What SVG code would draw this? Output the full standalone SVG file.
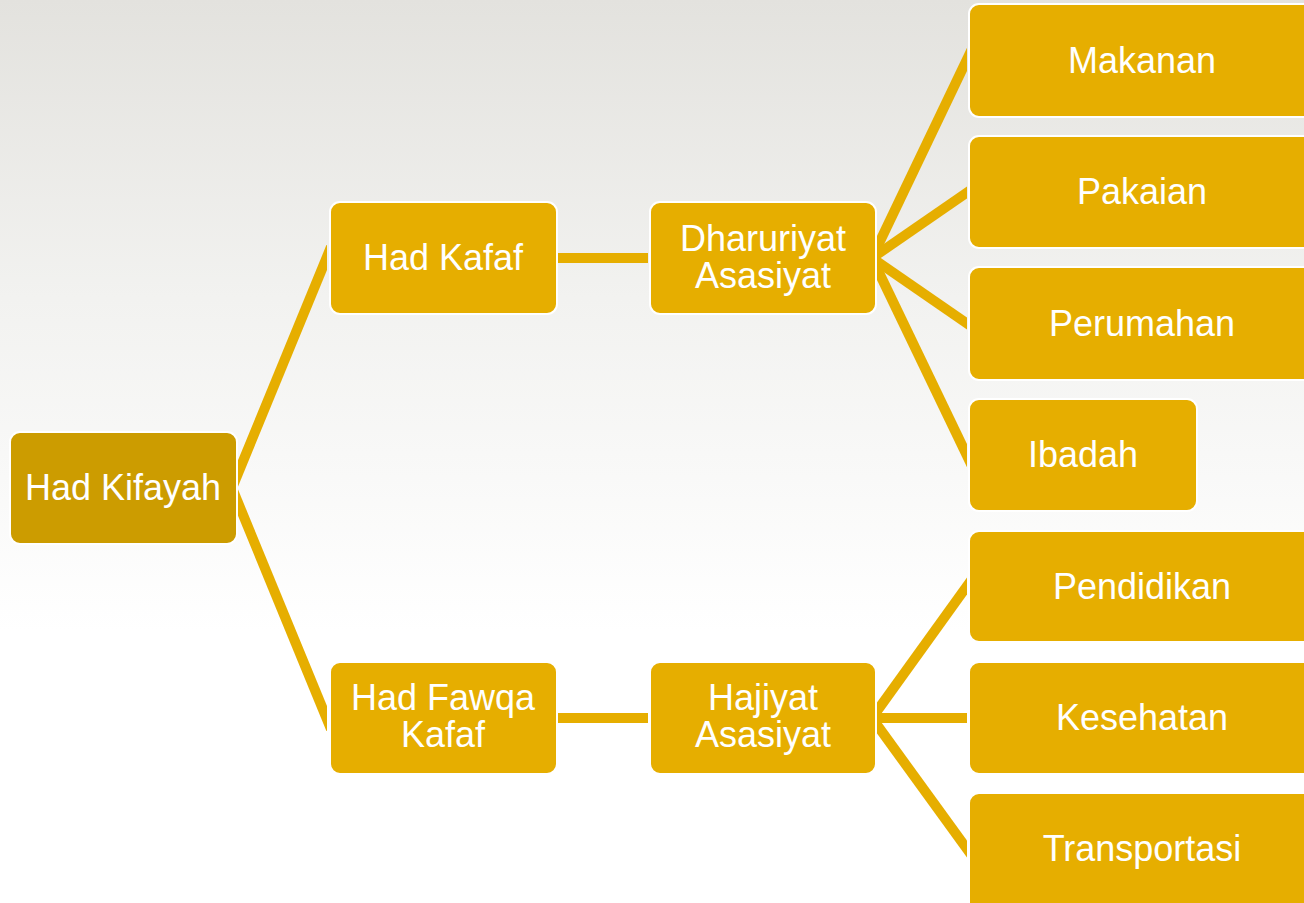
<svg xmlns="http://www.w3.org/2000/svg" width="1304" height="903" viewBox="0 0 1304 903">
<defs>
<linearGradient id="bg" x1="0" y1="0" x2="0" y2="1">
<stop offset="0" stop-color="#e3e2de"/>
<stop offset="0.33" stop-color="#f2f2f0"/>
<stop offset="0.7" stop-color="#ffffff"/>
<stop offset="1" stop-color="#ffffff"/>
</linearGradient>
<clipPath id="c1"><rect x="0" y="0" width="327" height="903"/></clipPath>
<clipPath id="c2"><rect x="0" y="0" width="648" height="903"/></clipPath>
<clipPath id="c3"><rect x="0" y="0" width="967" height="903"/></clipPath>
<style>
.box{fill:#e6ae00;stroke:#ffffff;stroke-width:2}
.root{fill:#cc9c00;stroke:#ffffff;stroke-width:2}
.conn line{stroke:#e6ae00;stroke-width:10;stroke-linecap:butt}
text{font-family:"Liberation Sans",Arial,sans-serif;font-size:36px;fill:#ffffff;text-anchor:middle}
</style>
</defs>
<rect x="0" y="0" width="1304" height="903" fill="url(#bg)"/>
<g id="connectors" class="conn">
<g clip-path="url(#c1)">
<line x1="232" y1="488" x2="331" y2="247"/>
<line x1="232" y1="488" x2="331" y2="729"/>
</g>
<g clip-path="url(#c2)">
<line x1="550" y1="258" x2="655" y2="258"/>
<line x1="550" y1="718" x2="655" y2="718"/>
</g>
<g clip-path="url(#c3)">
<line x1="872" y1="258" x2="972" y2="49"/>
<line x1="872" y1="258" x2="972" y2="189"/>
<line x1="872" y1="258" x2="972" y2="327"/>
<line x1="872" y1="258" x2="972" y2="466"/>
<line x1="872" y1="718" x2="972" y2="579"/>
<line x1="872" y1="718" x2="972" y2="718"/>
<line x1="872" y1="718" x2="972" y2="856"/>
</g>
</g>
<g id="had-kifayah"><rect class="root" x="10" y="432" width="227" height="112" rx="10"/><text x="123" y="500">Had Kifayah</text></g>
<g id="had-kafaf"><rect class="box" x="330" y="202" width="227" height="112" rx="10"/><text x="443" y="270">Had Kafaf</text></g>
<g id="had-fawqa-kafaf"><rect class="box" x="330" y="662" width="227" height="112" rx="10"/><text x="443" y="710">Had Fawqa</text><text x="443" y="747">Kafaf</text></g>
<g id="dharuriyat-asasiyat"><rect class="box" x="650" y="202" width="226" height="112" rx="10"/><text x="763" y="251">Dharuriyat</text><text x="763" y="288">Asasiyat</text></g>
<g id="hajiyat-asasiyat"><rect class="box" x="650" y="662" width="226" height="112" rx="10"/><text x="763" y="710">Hajiyat</text><text x="763" y="747">Asasiyat</text></g>
<g id="makanan"><rect class="box" x="969" y="4" width="346" height="113" rx="10"/><text x="1142" y="73">Makanan</text></g>
<g id="pakaian"><rect class="box" x="969" y="136" width="346" height="112" rx="10"/><text x="1142" y="204">Pakaian</text></g>
<g id="perumahan"><rect class="box" x="969" y="267" width="346" height="113" rx="10"/><text x="1142" y="336">Perumahan</text></g>
<g id="ibadah"><rect class="box" x="969" y="399" width="228" height="112" rx="10"/><text x="1083" y="467">Ibadah</text></g>
<g id="pendidikan"><rect class="box" x="969" y="531" width="346" height="111" rx="10"/><text x="1142" y="599">Pendidikan</text></g>
<g id="kesehatan"><rect class="box" x="969" y="662" width="346" height="112" rx="10"/><text x="1142" y="730">Kesehatan</text></g>
<g id="transportasi"><rect class="box" x="969" y="793" width="346" height="120" rx="10"/><text x="1142" y="861">Transportasi</text></g>
</svg>
